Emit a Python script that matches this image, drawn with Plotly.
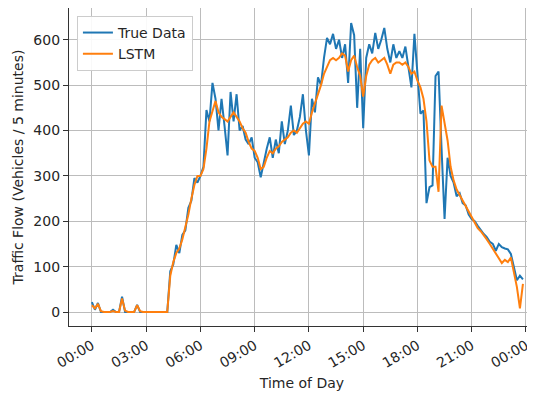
import plotly.graph_objects as go

# 10-minute samples over one day (minutes after midnight)
minutes = [i * 10 for i in range(144)]

true_data = [
    22, 5, 20, 0, 0, 0,
    0, 5, 0, 0, 34, 0,
    0, 0, 0, 16, 0, 0,
    0, 0, 0, 0, 0, 0,
    0, 0, 90, 105, 148, 130,
    170, 180, 230, 245, 295, 285,
    300, 320, 445, 420, 505, 470,
    400, 470, 410, 345, 485, 420,
    480, 400, 410, 380, 370, 385,
    340, 330, 297, 330, 360, 385,
    340, 380, 350, 420, 370, 400,
    455, 390, 400, 430, 480, 400,
    345, 470, 440, 517, 500, 560,
    604, 590, 613, 580, 600, 560,
    590, 505, 637, 610, 450, 580,
    405, 560, 590, 570, 615, 580,
    600, 626, 580, 550, 590, 560,
    575, 560, 585, 540, 495, 613,
    520, 437, 444, 240, 275, 279,
    520, 530, 360, 205, 340, 300,
    285, 255, 262, 240, 235, 215,
    205, 200, 190, 180, 172, 165,
    155, 150, 135, 150, 143, 140,
    138, 128, 100, 70, 80, 72,
]

lstm = [
    15, 8, 18, 2, 0, 0,
    0, 2, 0, 0, 30, 3,
    0, 0, 0, 15, 2, 0,
    0, 0, 0, 0, 0, 0,
    0, 0, 80, 110, 130, 140,
    160, 185, 215, 250, 280, 300,
    300, 315, 360, 420, 445, 465,
    440, 430, 425, 420, 430, 440,
    430, 420, 405, 395, 375, 360,
    355, 340, 315, 320, 340, 355,
    350, 360, 365, 375, 380, 385,
    395, 400, 395, 405, 415, 420,
    415, 440, 460, 475, 500, 525,
    540, 555, 560, 555, 560, 570,
    565, 530, 555, 565, 540, 520,
    475, 520, 545, 555, 560, 550,
    555, 560, 545, 525, 545, 550,
    550, 545, 550, 540, 525, 530,
    510, 495, 470, 420, 334, 320,
    320, 265, 455, 420, 378, 320,
    290, 270, 258, 245, 232, 222,
    210, 198, 185, 178, 170, 160,
    150, 140, 130, 120, 108, 115,
    110, 120, 85, 55, 8, 62,
]

tick_minutes = [0, 180, 360, 540, 720, 900, 1080, 1260, 1440]
tick_labels = ["00:00", "03:00", "06:00", "09:00", "12:00", "15:00", "18:00", "21:00", "00:00"]
y_ticks = [0, 100, 200, 300, 400, 500, 600]

FONT = "DejaVu Sans"
TXT = "#262626"

fig = go.Figure()
fig.add_trace(go.Scatter(x=minutes, y=true_data, mode="lines", name="True Data",
                         line=dict(color="#1f77b4", width=2)))
fig.add_trace(go.Scatter(x=minutes, y=lstm, mode="lines", name="LSTM",
                         line=dict(color="#ff7f0e", width=2)))

fig.update_layout(
    width=535, height=399,
    margin=dict(l=61, r=8, t=0, b=81),
    paper_bgcolor="white", plot_bgcolor="white",
    font=dict(family=FONT, size=14, color=TXT),
    showlegend=True,
    legend=dict(x=0.017, y=0.975, xanchor="left", yanchor="top",
                bgcolor="rgba(255,255,255,0.9)", bordercolor="#cccccc", borderwidth=1,
                font=dict(family=FONT, size=14, color=TXT),
                tracegroupgap=2, itemwidth=30),
)
fig.update_xaxes(
    range=[-76, 1470], tickmode="array", tickvals=tick_minutes, ticktext=tick_labels,
    tickangle=-30, ticks="outside", ticklen=5, tickcolor="#333333",
    showline=True, linecolor="#333333", linewidth=1.2, mirror=True,
    showgrid=True, gridcolor="#bcbcbc", gridwidth=1.3, zeroline=False,
    tickfont=dict(family=FONT, size=14, color=TXT), automargin=False,
    title=dict(text="Time of Day", font=dict(family=FONT, size=14, color=TXT), standoff=8),
)
fig.update_yaxes(
    range=[-30.8, 670], tickmode="array", tickvals=y_ticks,
    ticks="outside", ticklen=5, tickcolor="#333333",
    showline=True, linecolor="#333333", linewidth=1.2, mirror=False,
    showgrid=True, gridcolor="#bcbcbc", gridwidth=1.3, zeroline=False,
    tickfont=dict(family=FONT, size=14, color=TXT), automargin=False,
    title=dict(text="Traffic Flow (Vehicles / 5 minutes)", font=dict(family=FONT, size=14, color=TXT), standoff=6),
)

fig.write_html("out.html")
